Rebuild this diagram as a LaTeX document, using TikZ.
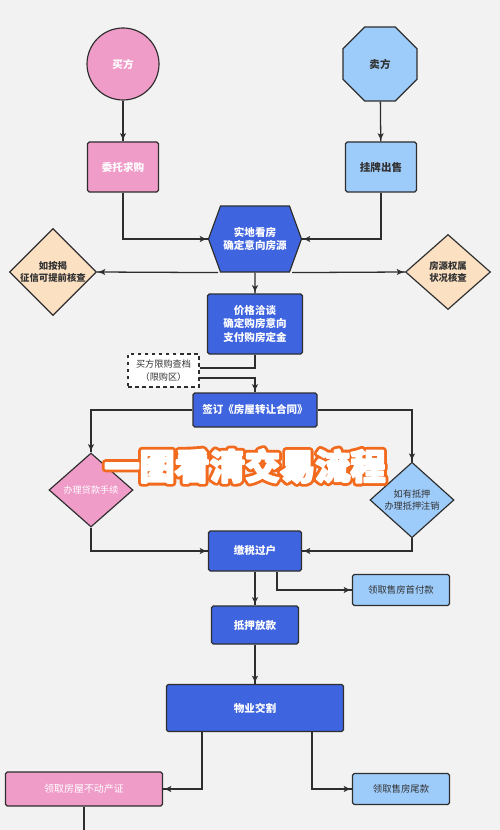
\documentclass[tikz,border=0pt]{standalone}
\usepackage{fontspec}
\setmainfont{Noto Sans CJK SC}
\usetikzlibrary{arrows}
\usetikzlibrary{decorations.markings}
\usetikzlibrary{positioning}
\usetikzlibrary{shapes.geometric}
\usetikzlibrary{shapes.symbols}
\tikzset{->/.style = {decoration={markings,
                                  mark=at position 1 with {\arrow[scale=1.15]{latex'}}},
                      postaction={decorate}}}
\definecolor{mbg}{HTML}{F2F2F2}
\definecolor{mline}{HTML}{2E2E2E}
\definecolor{mpink}{HTML}{F09CC9}
\definecolor{mblue}{HTML}{3F64DF}
\definecolor{msky}{HTML}{9DCBFA}
\definecolor{mpeach}{HTML}{FCE0C2}
\definecolor{mtext}{HTML}{333333}
\definecolor{morange}{HTML}{F26A1E}
% outlined banner text: thick orange stroke below, white fill on top
\newcommand\outlinetext[1]{\special{pdf:literal direct 1 Tr 6.5 w 1 J 1 j 0.949 0.416 0.118 RG}#1\special{pdf:literal direct 0 Tr}}
\newcommand\filltext[1]{\special{pdf:literal direct 2 Tr 1.6 w 1 J 1 j 1 1 1 RG}#1\special{pdf:literal direct 0 Tr}}
\tikzset{box/.style = {draw=mline, line width=1pt, rounded corners=1.5pt, inner sep=0pt,
                       align=center, font=\bfseries\fontsize{9}{11.5}\selectfont},
         pinkbox/.style = {box, fill=mpink, text=white},
         bluebox/.style = {box, fill=mblue, text=white},
         skybox/.style = {box, fill=msky, text=mtext},
         decision/.style = {diamond, draw=mline, line width=1pt, inner sep=0pt, align=center,
                            font=\fontsize{7.8}{10.5}\selectfont},
         flow/.style = {draw=mline, line width=1.1pt},
         banner/.style = {font=\bfseries\fontsize{30}{32}\selectfont}}

\begin{document}
\begin{tikzpicture}[x=0.3mm, y=-0.3mm]
    \fill [mbg] (0, 0) rectangle (500, 830);
    \useasboundingbox (0, 0) rectangle (500, 830);

    % the two parties
    \node [circle, pinkbox, minimum size=21.6mm] (buyer) at (123, 64) {买方};
    \node [regular polygon, regular polygon sides=8, skybox, rounded corners=0pt,
           minimum size=24mm] (seller) at (380, 64) {卖方};
    \node [pinkbox, minimum width=21.3mm, minimum height=15mm] (entrust) at (123, 167) {委托求购};
    \node [skybox, minimum width=21.3mm, minimum height=15mm] (listing) at (381, 167) {挂牌出售};

    % viewing and checks
    \node [signal, signal to=east and west, signal pointer angle=140, bluebox, rounded corners=0pt,
           minimum width=27.9mm, minimum height=19.8mm] (view) at (255, 239) {实地看房\\确定意向房源};
    \node [decision, fill=mpeach, text=mtext, font=\bfseries\fontsize{8}{10.5}\selectfont,
           minimum width=26.1mm, minimum height=22.5mm] (checkL) at (53, 272) {如按揭\\征信可提前核查};
    \node [decision, fill=mpeach, text=mtext, font=\bfseries\fontsize{8}{10.5}\selectfont,
           minimum width=25.5mm, minimum height=22.5mm] (checkR) at (448, 272) {房源权属\\状况核查};
    \node [bluebox, minimum width=28.5mm, minimum height=18mm] (price) at (255, 324)
          {价格洽谈\\确定购房意向\\支付购房定金};
    \node [draw=mline, line width=1pt, dashed, fill=white, text=mtext, align=center, inner sep=0pt,
           font=\fontsize{7.8}{10.5}\selectfont, minimum width=21.3mm, minimum height=9.9mm]
          (limit) at (163.5, 370.5) {买方限购查档\\（限购区）};
    \node [bluebox, minimum width=37.2mm, minimum height=10.2mm] (sign) at (255, 410) {签订《房屋转让合同》};

    % loan and mortgage
    \node [decision, fill=mpink, text=white, minimum width=25.2mm, minimum height=22.2mm]
          (loanD) at (91, 490) {办理贷款手续};
    \node [decision, fill=msky, text=mtext, minimum width=25.2mm, minimum height=22.2mm]
          (mortD) at (412, 500) {如有抵押\\办理抵押注销};

    % transfer and payments
    \node [bluebox, minimum width=27.9mm, minimum height=12mm] (tax) at (255, 551) {缴税过户};
    \node [skybox, font=\fontsize{8}{10}\selectfont, minimum width=29.1mm, minimum height=9.3mm]
          (pay1) at (401, 590) {领取售房首付款};
    \node [bluebox, minimum width=26.1mm, minimum height=11.4mm] (bank) at (255, 625) {抵押放款};
    \node [bluebox, minimum width=53.1mm, minimum height=14.1mm] (handover) at (255, 708) {物业交割};
    \node [pinkbox, font=\fontsize{8.5}{10}\selectfont, minimum width=47.1mm, minimum height=10.2mm]
          (cert) at (84, 789) {领取房屋不动产证};
    \node [skybox, font=\fontsize{8}{10}\selectfont, minimum width=29.1mm, minimum height=9.3mm]
          (pay2) at (401, 789) {领取售房尾款};
    \coordinate (bottom) at (84, 830);

    % connectors
    \draw [flow, ->] (buyer) -- (entrust);
    \draw [flow, ->] (seller) -- (listing);
    \draw [flow, ->] (entrust.south) |- (view.west);
    \draw [flow, ->] (listing.south) |- (view.east);
    \draw [flow, ->] ([xshift=-11.1mm]view.south) -- (checkL.east);
    \draw [flow, ->] ([xshift=11.1mm]view.south) -- (checkR.west);
    \draw [flow, ->] (view) -- (price);
    \draw [flow] (price.south) |- ([yshift=0.75mm]limit.east);
    \draw [flow, ->] ([yshift=-2.25mm]limit.east) -| (sign.north);
    \draw [flow, ->] (sign.west) -| (loanD.north);
    \draw [flow, ->] (sign.east) -| (mortD.north);
    \draw [flow, ->] (loanD.south) |- (tax.west);
    \draw [flow, ->] (mortD.south) |- (tax.east);
    \draw [flow, ->] (tax) -- (bank);
    \draw [flow, ->] ([xshift=6.6mm]tax.south) |- (pay1.west);
    \draw [flow, ->] (bank) -- (handover);
    \draw [flow, ->] ([xshift=-15.9mm]handover.south) |- (cert.east);
    \draw [flow, ->] ([xshift=17.1mm]handover.south) |- (pay2.west);
    \draw [flow] (cert) -- (bottom);

    % banner
    \node [banner, text=morange] (titleedge) at (245, 466) {\outlinetext{一图看清交易流程}};
    \node [banner, text=white] (title) at (245, 466) {\filltext{一图看清交易流程}};
  \end{tikzpicture}
\end{document}
